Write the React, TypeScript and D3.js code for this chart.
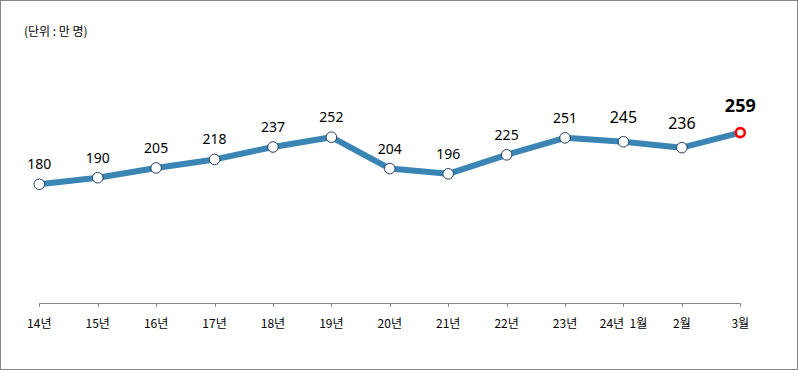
import React from "react";
import * as d3 from "d3";

const categories = ["14년", "15년", "16년", "17년", "18년", "19년", "20년", "21년", "22년", "23년", "24년  1월", "2월", "3월"];
const values = [180, 190, 205, 218, 237, 252, 204, 196, 225, 251, 245, 236, 259];
const labelSizes = [14, 14, 14, 14, 14, 14, 14, 14, 14, 14, 16, 16, 18];
const unitLabel = "(단위 : 만 명)";

const W = 798;
const H = 370;

export default function App() {
  const x = d3.scalePoint<string>().domain(categories).range([39.3, 740.3]);
  const y = d3.scaleLinear().domain([0, 400]).range([302, 40.4]);
  const line = d3
    .line<number>()
    .x((_, i) => x(categories[i]) as number)
    .y((d) => y(d));
  const last = values.length - 1;
  const axisY = 303.5;
  const font = "'Malgun Gothic', 'Noto Sans CJK KR', sans-serif";
  const numFont = "'Noto Sans', 'Open Sans', sans-serif";

  return (
    <div style={{ position: "absolute", left: 0, top: 0 }}>
      <svg width={W} height={H} style={{ display: "block" }}>
        <rect x={0} y={0} width={W} height={H} fill="#fff" />
        <rect x={0.5} y={0.5} width={W - 1} height={H - 1} fill="none" stroke="#868686" strokeWidth={1} />
        <text x={24} y={36} fontFamily={font} fontSize={12} fill="#000">
          {unitLabel}
        </text>
        <line x1={x(categories[0])} x2={x(categories[last])} y1={axisY} y2={axisY} stroke="#868686" strokeWidth={1} />
        {categories.map((c) => (
          <g key={c}>
            <line x1={Math.round(x(c) as number) + 0.5} x2={Math.round(x(c) as number) + 0.5} y1={axisY} y2={axisY + 3.5} stroke="#868686" strokeWidth={1} />
            <text x={x(c)} y={328} textAnchor="middle" fontFamily={font} fontSize={12} fill="#000" style={{ whiteSpace: "pre" }}>
              {c}
            </text>
          </g>
        ))}
        <path d={line(values) || ""} fill="none" stroke="#3a85b4" strokeWidth={6} strokeLinejoin="round" />
        {values.map((v, i) => (
          <circle
            key={i}
            cx={x(categories[i])}
            cy={y(v)}
            r={i === last ? 4.5 : 5.3}
            fill="#fff"
            stroke={i === last ? "#ff0000" : "#243f5c"}
            strokeWidth={i === last ? 2.6 : 1}
          />
        ))}
        {values.map((v, i) => (
          <text
            key={"l" + i}
            x={x(categories[i])}
            y={y(v) - (i === last ? 21 : i >= 10 ? 19 : 15)}
            textAnchor="middle"
            fontFamily={numFont}
            fontSize={labelSizes[i]}
            fontWeight={i === last ? "bold" : "normal"}
            fill="#000"
          >
            {v}
          </text>
        ))}
      </svg>
    </div>
  );
}
